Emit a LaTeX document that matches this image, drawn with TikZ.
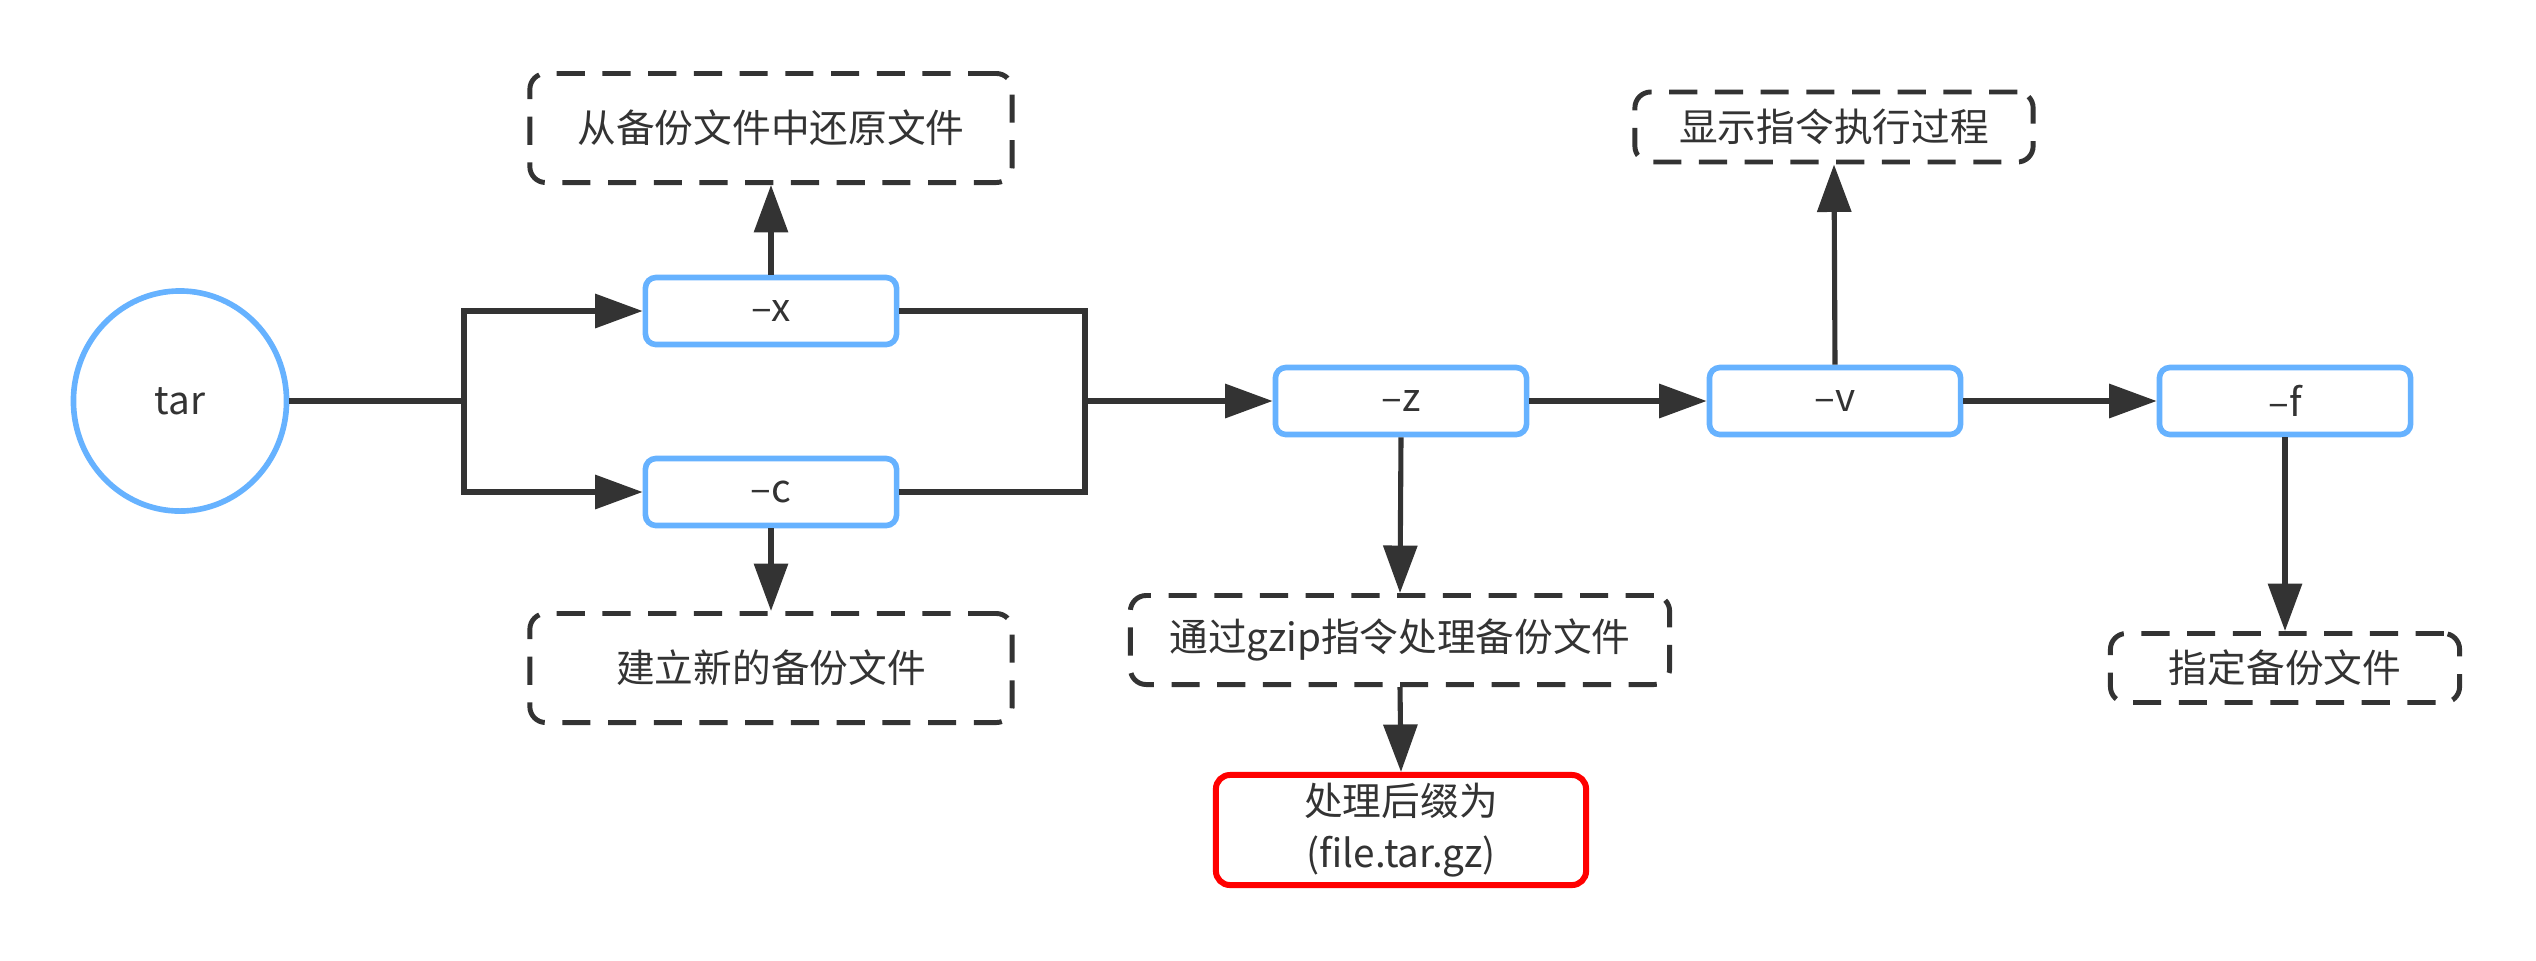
\documentclass[tikz,border=0pt]{standalone}
\usepackage{fontspec}
\setmainfont{Noto Sans CJK SC}
\usetikzlibrary{arrows.meta,shapes.geometric}
\definecolor{dk}{HTML}{333333}
\definecolor{bl}{HTML}{66B2FF}
\definecolor{rd}{HTML}{FF0000}
\newcommand\lowtxt[1]{\raisebox{-2.5pt}{#1}}
\begin{document}
\begin{tikzpicture}[x=0.01cm,y=-0.01cm,
  every node/.style={font=\fontsize{11pt}{15pt}\selectfont, text=dk},
  opt/.style={draw=bl, line width=1.6pt, rounded corners=3pt, minimum width=2.51cm, minimum height=0.67cm, inner sep=0pt},
  note/.style={draw=dk, line width=1.4pt, dash pattern=on 8pt off 5pt, rounded corners=4.5pt, inner sep=0pt},
  conn/.style={draw=dk, line width=1.45pt, -{Triangle[length=13.5pt,width=9.5pt]}},
  plain/.style={draw=dk, line width=1.45pt},
]
\useasboundingbox (0,0) rectangle (2536,960);
\fill[white] (0,0) rectangle (2536,960);

\node[ellipse, draw=bl, line width=1.6pt, minimum width=2.13cm, minimum height=2.2cm] (tar) at (180,401) {\lowtxt{tar}};
\node[opt] (x) at (771,311) {\lowtxt{–x}};
\node[opt] (c) at (771,492) {\lowtxt{–c}};
\node[opt] (z) at (1401,401) {\lowtxt{–z}};
\node[opt] (v) at (1835,401) {\lowtxt{–v}};
\node[opt] (f) at (2285,401) {\lowtxt{–f}};

\node[note, minimum width=4.82cm, minimum height=1.09cm] (restore) at (771,128) {\lowtxt{从备份文件中还原文件}};
\node[note, minimum width=4.82cm, minimum height=1.09cm] (create) at (771,668) {\lowtxt{建立新的备份文件}};
\node[note, minimum width=3.98cm, minimum height=0.70cm] (show) at (1834,127) {显示指令执行过程};
\node[note, minimum width=3.49cm, minimum height=0.69cm] (spec) at (2285,668) {\lowtxt{指定备份文件}};
\node[note, minimum width=5.39cm, minimum height=0.89cm] (gzip) at (1400,640) {通过gzip指令处理备份文件};
\node[draw=rd, line width=1.7pt, rounded corners=4pt, minimum width=3.70cm, minimum height=1.10cm, inner sep=0pt, align=center] (red) at (1401,830) {处理后缀为\\(file.tar.gz)};

\coordinate (br) at (464,401);
\coordinate (mg) at (1085,401);

\draw[plain] (tar.east) -- (br);
\draw[conn] (br) |- (x.west);
\draw[conn] (br) |- (c.west);
\draw[plain] (x.east) -| (mg) |- (c.east);
\draw[conn] (mg) -- (z.west);
\draw[conn] (x.north) -- (restore.south);
\draw[conn] (c.south) -- (create.north);
\draw[conn] (z.east) -- (v.west);
\draw[conn] (v.north) -- (show.south);
\draw[conn] (v.east) -- (f.west);
\draw[conn] (f.south) -- (spec.north);
\draw[conn] (z.south) -- (gzip.north);
\draw[conn] (gzip.south) -- (red.north);
\end{tikzpicture}
\end{document}
